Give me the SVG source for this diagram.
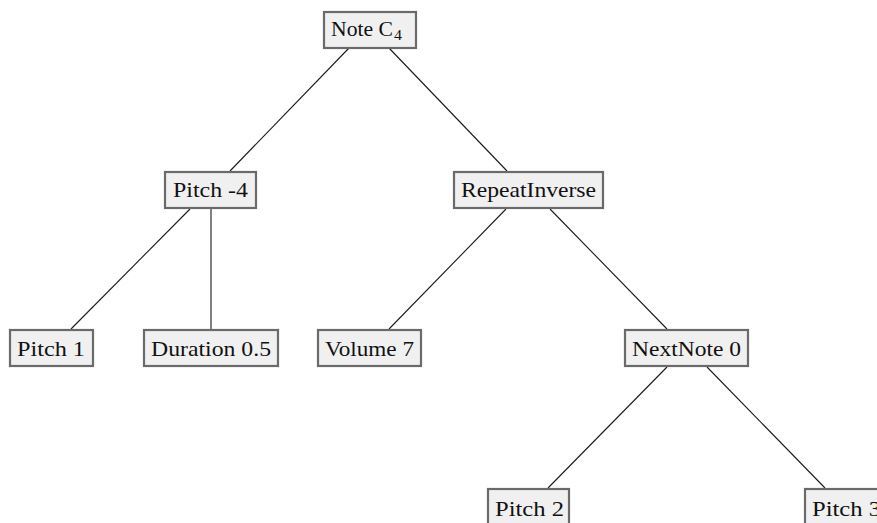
<svg xmlns="http://www.w3.org/2000/svg" width="877" height="523" viewBox="0 0 877 523">
  <style>
    .edge { stroke: #1a1a1a; stroke-width: 1.1; fill: none; }
    .box { fill: #f0f0f0; stroke: #6a6a6a; stroke-width: 2.2; }
    .lbl { font-family: "Liberation Serif", "DejaVu Serif", serif; font-size: 22px; fill: #111111; }
    .sub { font-family: "Liberation Serif", "DejaVu Serif", serif; font-size: 15px; fill: #111111; }
  </style>
  <rect width="877" height="523" fill="#ffffff"/>

  <!-- tree edges -->
  <g id="connectors">
    <line class="edge" x1="349" y1="48" x2="230" y2="171"/>
    <line class="edge" x1="389" y1="48" x2="507" y2="171"/>
    <line class="edge" x1="190" y1="209" x2="71" y2="329"/>
    <line class="edge" x1="211" y1="209" x2="211" y2="329"/>
    <line class="edge" x1="506" y1="209" x2="389" y2="329"/>
    <line class="edge" x1="550" y1="209" x2="667" y2="329"/>
    <line class="edge" x1="667" y1="367" x2="548" y2="488"/>
    <line class="edge" x1="707" y1="367" x2="825" y2="488"/>
  </g>

  <g id="note-c4">
    <rect class="box" x="324" y="12" width="92" height="36"/>
    <text class="lbl" x="331" y="36" textLength="62" lengthAdjust="spacingAndGlyphs">Note C</text>
    <text class="sub" x="394" y="40" textLength="8" lengthAdjust="spacingAndGlyphs">4</text>
  </g>

  <g id="pitch-minus4">
    <rect class="box" x="165" y="172" width="91" height="36"/>
    <text class="lbl" x="173" y="197" textLength="75" lengthAdjust="spacingAndGlyphs">Pitch -4</text>
  </g>

  <g id="repeat-inverse">
    <rect class="box" x="454" y="172" width="149" height="36"/>
    <text class="lbl" x="461" y="197" textLength="135" lengthAdjust="spacingAndGlyphs">RepeatInverse</text>
  </g>

  <g id="pitch-1">
    <rect class="box" x="10" y="330" width="83" height="36"/>
    <text class="lbl" x="17" y="356" textLength="68" lengthAdjust="spacingAndGlyphs">Pitch 1</text>
  </g>

  <g id="duration-05">
    <rect class="box" x="144" y="330" width="134" height="36"/>
    <text class="lbl" x="151" y="356" textLength="120" lengthAdjust="spacingAndGlyphs">Duration 0.5</text>
  </g>

  <g id="volume-7">
    <rect class="box" x="318" y="330" width="103" height="36"/>
    <text class="lbl" x="325" y="356" textLength="89" lengthAdjust="spacingAndGlyphs">Volume 7</text>
  </g>

  <g id="nextnote-0">
    <rect class="box" x="625" y="330" width="123" height="36"/>
    <text class="lbl" x="632" y="356" textLength="109" lengthAdjust="spacingAndGlyphs">NextNote 0</text>
  </g>

  <g id="pitch-2">
    <rect class="box" x="488" y="489" width="81" height="36"/>
    <text class="lbl" x="495" y="516" textLength="69" lengthAdjust="spacingAndGlyphs">Pitch 2</text>
  </g>

  <g id="pitch-3">
    <rect class="box" x="805" y="489" width="81" height="36"/>
    <text class="lbl" x="812" y="516" textLength="69" lengthAdjust="spacingAndGlyphs">Pitch 3</text>
  </g>
</svg>
